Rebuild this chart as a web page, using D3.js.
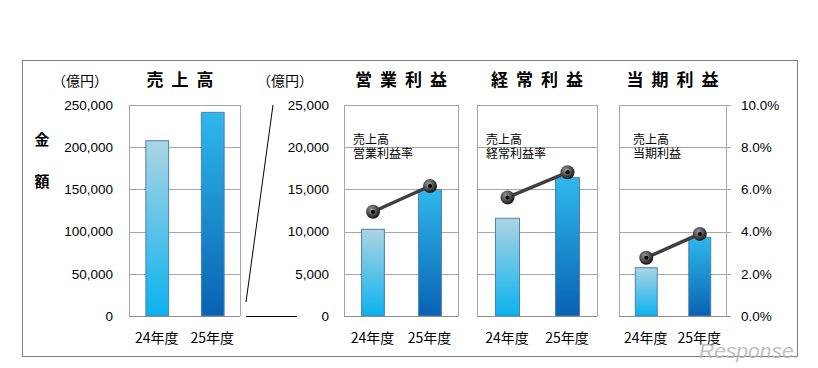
<!DOCTYPE html>
<html><head><meta charset="utf-8">
<script src="https://cdn.jsdelivr.net/npm/d3@7/dist/d3.min.js"></script>
<style>
html,body{margin:0;padding:0;background:#fff;}
svg{display:block;}
text{font-family:"Liberation Sans","Noto Sans CJK JP",sans-serif;}
.jp{font-family:"Noto Sans CJK JP",sans-serif;}
</style></head>
<body><svg id="c" width="818" height="368"></svg>
<script>
// ---- data ----
const categories = ["24年度", "25年度"];
const sales = [207700, 241300];
const operatingProfit = [10270, 14930];
const ordinaryProfit = [11580, 16390];
const netProfit = [5720, 9320];
const operatingMargin = [4.94, 6.16];
const ordinaryMargin = [5.62, 6.81];
const netMargin = [2.76, 3.89];
const salesTicks = [0, 50000, 100000, 150000, 200000, 250000];
const profitTicks = [0, 5000, 10000, 15000, 20000, 25000];
const rateTicks = [0, 2, 4, 6, 8, 10];
const titles = ["売上高", "営業利益", "経常利益", "当期利益"];
const legendLines = [["売上高", "営業利益率"], ["売上高", "経常利益率"], ["売上高", "当期利益"]];
const unitLabel = "（億円）";
const axisTitle = ["金", "額"];

// ---- layout ----
const svg = d3.select("#c");
const yTop = 105, yBottom = 316;
const defs = svg.append("defs");
function lin(id, c1, c2) {
  const g = defs.append("linearGradient").attr("id", id).attr("x1", 0).attr("y1", 0).attr("x2", 0).attr("y2", 1);
  g.append("stop").attr("offset", "0%").attr("stop-color", c1);
  g.append("stop").attr("offset", "100%").attr("stop-color", c2);
}
lin("g0", "#acd4e3", "#0ab2ef");
lin("g1", "#2fb8ec", "#0862b2");
const rg = defs.append("radialGradient").attr("id", "mk").attr("cx", "40%").attr("cy", "35%").attr("r", "65%");
rg.append("stop").attr("offset", "0%").attr("stop-color", "#9a9a9a");
rg.append("stop").attr("offset", "60%").attr("stop-color", "#4a4a4a");
rg.append("stop").attr("offset", "100%").attr("stop-color", "#151515");

// outer frame
svg.append("rect").attr("x", 22.5).attr("y", 60.5).attr("width", 775).attr("height", 296)
  .attr("fill", "none").attr("stroke", "#7f7f7f").attr("stroke-width", 1);

const panels = [
  {x0: 129, x1: 240, vals: sales, dom: 250000, ticks: salesTicks, pi: 0.59},
  {x0: 344, x1: 458, vals: operatingProfit, dom: 25000, ticks: profitTicks, pi: 0.6, rate: operatingMargin},
  {x0: 477, x1: 597, vals: ordinaryProfit, dom: 25000, ticks: profitTicks, pi: 0.6, rate: ordinaryMargin},
  {x0: 619, x1: 726, vals: netProfit, dom: 25000, ticks: profitTicks, pi: 0.59, rate: netMargin}
];
const yRate = d3.scaleLinear().domain([0, 10]).range([yBottom, yTop]);
const fmt = d3.format(",");

panels.forEach((p, i) => {
  const g = svg.append("g");
  const x = d3.scaleBand().domain(categories).range([p.x0, p.x1]).paddingInner(p.pi).paddingOuter(p.pi / 2);
  const y = d3.scaleLinear().domain([0, p.dom]).range([yBottom, yTop]);
  // grid
  g.selectAll("line.grid").data(p.ticks.filter(t => t > 0)).join("line")
    .attr("x1", p.x0).attr("x2", i === 3 ? p.x1 + 5 : p.x1)
    .attr("y1", d => Math.round(y(d)) + 0.5).attr("y2", d => Math.round(y(d)) + 0.5)
    .attr("stroke", "#a6a6a6").attr("stroke-width", 1);
  // plot border sides
  g.append("line").attr("x1", p.x0 + 0.5).attr("x2", p.x0 + 0.5).attr("y1", yTop).attr("y2", yBottom).attr("stroke", "#a6a6a6");
  g.append("line").attr("x1", p.x1 + 0.5).attr("x2", p.x1 + 0.5).attr("y1", yTop).attr("y2", yBottom).attr("stroke", "#a6a6a6");
  // bars
  g.selectAll("rect.bar").data(p.vals).join("rect")
    .attr("x", (d, j) => x(categories[j]) + 0.5).attr("width", x.bandwidth())
    .attr("y", d => y(d)).attr("height", d => yBottom - y(d))
    .attr("fill", (d, j) => `url(#g${j})`).attr("stroke", "#4f7fb5").attr("stroke-width", 1);
  // base axis
  g.append("line").attr("x1", p.x0).attr("x2", i === 3 ? p.x1 + 5 : p.x1).attr("y1", yBottom + 0.5).attr("y2", yBottom + 0.5)
    .attr("stroke", "#8c8c8c").attr("stroke-width", 1.2);
  // y tick labels
  const lx = i === 0 ? 113 : 329;
  if (i < 2) {
    svg.append("g").selectAll("text").data(p.ticks).join("text")
      .attr("x", lx).attr("y", d => y(d)).attr("dy", "0.35em")
      .attr("text-anchor", "end").attr("font-size", 13.5).attr("fill", "#000")
      .text(d => fmt(d));
  }
  // x labels
  g.selectAll("text.xl").data(categories).join("text")
    .attr("class", "jp").attr("x", d => x(d) + x.bandwidth() / 2).attr("y", 338).attr("dy", "0.36em")
    .attr("text-anchor", "middle").attr("font-size", 14).text(d => d);
  // title
  const tx = i === 0 ? 180 : (p.x0 + p.x1) / 2;
  g.append("text").attr("class", "jp").attr("x", tx + 4).attr("y", 80).attr("dy", "0.36em")
    .attr("text-anchor", "middle").attr("font-size", 17).attr("font-weight", 700)
    .attr("letter-spacing", "8px").text(titles[i]);
  // rate line
  if (p.rate) {
    const lg = legendLines[i - 1];
    const lx2 = p.x0 + (i === 3 ? 14 : 9);
    g.append("text").attr("class", "jp").attr("font-size", 12)
      .selectAll("tspan").data(lg).join("tspan")
      .attr("x", lx2).attr("y", (d, k) => 140 + k * 14).attr("dy", "0.36em").text(d => d);
    const pts = p.rate.map((r, j) => [x(categories[j]) + x.bandwidth() / 2 + 0.5, yRate(r)]);
    g.append("path").attr("d", d3.line()(pts)).attr("fill", "none").attr("stroke", "#3f3f3f").attr("stroke-width", 3.5);
    g.selectAll("circle.m").data(pts).join("circle").attr("cx", d => d[0]).attr("cy", d => d[1]).attr("r", 7)
      .attr("fill", "url(#mk)");
    g.selectAll("circle.c").data(pts).join("circle").attr("cx", d => d[0]).attr("cy", d => d[1]).attr("r", 2)
      .attr("fill", "#000");
  }
});

// right % axis
svg.append("g").selectAll("text").data(rateTicks).join("text")
  .attr("x", 741).attr("y", d => yRate(d)).attr("dy", "0.35em").attr("font-size", 13.5)
  .text(d => d.toFixed(1) + "%");

// units
svg.append("text").attr("class", "jp").attr("x", 80).attr("y", 81).attr("dy", "0.36em").attr("text-anchor", "middle").attr("font-size", 14).text(unitLabel);
svg.append("text").attr("class", "jp").attr("x", 285).attr("y", 81).attr("dy", "0.36em").attr("text-anchor", "middle").attr("font-size", 14).text(unitLabel);
// axis title
svg.selectAll("text.at").data(axisTitle).join("text").attr("class", "jp")
  .attr("x", 42).attr("y", (d, k) => 140 + k * 42).attr("dy", "0.36em").attr("text-anchor", "middle")
  .attr("font-size", 15).attr("font-weight", 700).text(d => d);

// break lines
svg.append("line").attr("x1", 273).attr("y1", 105).attr("x2", 246).attr("y2", 302).attr("stroke", "#000").attr("stroke-width", 1);
svg.append("line").attr("x1", 246).attr("y1", 316.5).attr("x2", 297).attr("y2", 316.5).attr("stroke", "#000").attr("stroke-width", 1);

// watermark
svg.append("text").attr("x", 699).attr("y", 358).attr("font-size", 21).attr("font-style", "italic")
  .attr("fill", "#b4b4b4").attr("opacity", 0.85).attr("font-family", "Liberation Sans, sans-serif").text("Response.");
</script></body></html>
